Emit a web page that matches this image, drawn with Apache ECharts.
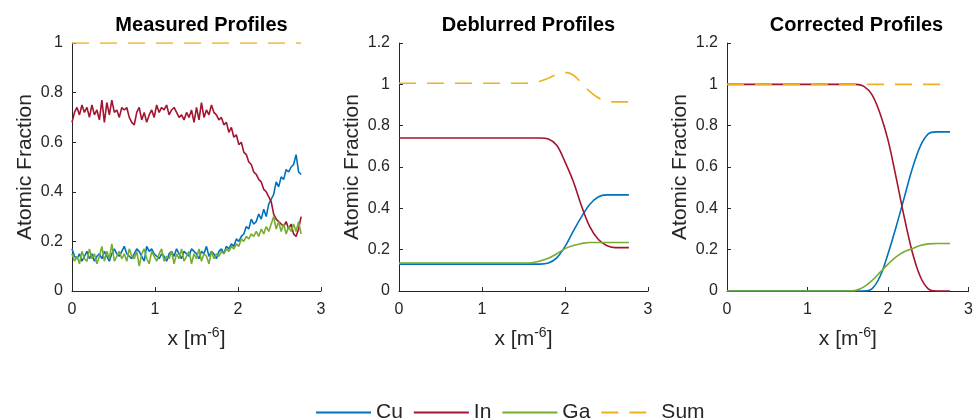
<!DOCTYPE html>
<html>
<head>
<meta charset="utf-8">
<script src="https://cdn.jsdelivr.net/npm/echarts@6/dist/echarts.min.js"></script>
<style>
  html, body { margin: 0; padding: 0; background: #fff; }
  #chart { width: 976px; height: 420px; }
</style>
</head>
<body>
<div id="chart"></div>
<script>
// measured profiles, sampled every 0.03 from 0 to 2.76
let xMeasured = [0, 0.03, 0.06, 0.09, 0.12, 0.15, 0.18, 0.21, 0.24, 0.27, 0.30, 0.33, 0.36, 0.39, 0.42, 0.45, 0.48, 0.51, 0.54, 0.57,
  0.60, 0.63, 0.66, 0.69, 0.72, 0.75, 0.78, 0.81, 0.84, 0.87, 0.90, 0.93, 0.96, 0.99, 1.02, 1.05, 1.08, 1.11, 1.14, 1.17,
  1.20, 1.23, 1.26, 1.29, 1.32, 1.35, 1.38, 1.41, 1.44, 1.47, 1.50, 1.53, 1.56, 1.59, 1.62, 1.65, 1.68, 1.71, 1.74, 1.77,
  1.80, 1.83, 1.86, 1.89, 1.92, 1.95, 1.98, 2.01, 2.04, 2.07, 2.10, 2.13, 2.16, 2.19, 2.22, 2.25, 2.28, 2.31, 2.34, 2.37,
  2.40, 2.43, 2.46, 2.49, 2.52, 2.55, 2.58, 2.61, 2.64, 2.67, 2.70, 2.73, 2.76]
let cuMeasured = [0.17, 0.14, 0.13, 0.15, 0.12, 0.14, 0.16, 0.13, 0.15, 0.12, 0.14, 0.15, 0.13, 0.16, 0.14, 0.12, 0.15, 0.17, 0.15, 0.14,
  0.16, 0.18, 0.15, 0.14, 0.13, 0.15, 0.17, 0.16, 0.14, 0.12, 0.18, 0.16, 0.17, 0.15, 0.14, 0.13, 0.15, 0.14, 0.12, 0.15,
  0.16, 0.14, 0.17, 0.15, 0.13, 0.16, 0.15, 0.14, 0.17, 0.16, 0.15, 0.13, 0.16, 0.15, 0.18, 0.14, 0.16, 0.15, 0.13, 0.16,
  0.17, 0.15, 0.18, 0.17, 0.19, 0.18, 0.21, 0.20, 0.22, 0.23, 0.26, 0.25, 0.29, 0.27, 0.28, 0.31, 0.29, 0.33, 0.30, 0.35,
  0.37, 0.39, 0.44, 0.42, 0.46, 0.45, 0.49, 0.48, 0.50, 0.51, 0.55, 0.48, 0.47]
let inMeasured = [0.68, 0.72, 0.74, 0.71, 0.75, 0.72, 0.74, 0.70, 0.75, 0.71, 0.73, 0.69, 0.77, 0.68, 0.76, 0.71, 0.77, 0.72, 0.73, 0.70,
  0.74, 0.73, 0.74, 0.70, 0.68, 0.67, 0.72, 0.74, 0.69, 0.72, 0.68, 0.71, 0.73, 0.70, 0.75, 0.72, 0.74, 0.73, 0.75, 0.71,
  0.73, 0.74, 0.72, 0.70, 0.71, 0.69, 0.72, 0.70, 0.73, 0.68, 0.74, 0.69, 0.76, 0.70, 0.73, 0.71, 0.75, 0.72, 0.71, 0.69,
  0.70, 0.67, 0.68, 0.64, 0.66, 0.62, 0.63, 0.59, 0.60, 0.56, 0.55, 0.52, 0.51, 0.48, 0.47, 0.45, 0.44, 0.41, 0.40, 0.38,
  0.36, 0.31, 0.29, 0.28, 0.27, 0.26, 0.28, 0.25, 0.27, 0.23, 0.22, 0.25, 0.30]
let gaMeasured = [0.15, 0.12, 0.14, 0.11, 0.16, 0.13, 0.12, 0.17, 0.13, 0.15, 0.11, 0.14, 0.18, 0.12, 0.16, 0.13, 0.19, 0.12, 0.14, 0.16,
  0.13, 0.15, 0.12, 0.17, 0.14, 0.13, 0.16, 0.10, 0.15, 0.17, 0.13, 0.11, 0.16, 0.14, 0.12, 0.15, 0.17, 0.12, 0.14, 0.13,
  0.16, 0.11, 0.15, 0.13, 0.17, 0.12, 0.14, 0.16, 0.11, 0.15, 0.13, 0.17, 0.12, 0.15, 0.14, 0.11, 0.16, 0.13, 0.15, 0.14,
  0.16, 0.15, 0.17, 0.16, 0.18, 0.17, 0.19, 0.18, 0.21, 0.20, 0.22, 0.21, 0.23, 0.22, 0.24, 0.22, 0.25, 0.23, 0.26, 0.24,
  0.27, 0.30, 0.25, 0.28, 0.24, 0.27, 0.23, 0.26, 0.24, 0.27, 0.24, 0.28, 0.23]
let xSumMeasured = [0, 2.76]
let sumMeasured = [1, 1]

// deblurred and corrected profiles, sampled every 0.1
let xSmooth = [0, 0.1, 0.2, 0.3, 0.4, 0.5, 0.6, 0.7, 0.8, 0.9, 1.0, 1.1, 1.2, 1.3, 1.4, 1.5, 1.6, 1.7, 1.8, 1.9,
  2.0, 2.1, 2.2, 2.3, 2.4, 2.5, 2.6, 2.7, 2.77]
let cuDeblurred = [0.13, 0.13, 0.13, 0.13, 0.13, 0.13, 0.13, 0.13, 0.13, 0.13, 0.13, 0.13, 0.13, 0.13, 0.13, 0.13, 0.13, 0.13, 0.135, 0.16,
  0.215, 0.29, 0.36, 0.42, 0.455, 0.465, 0.465, 0.465, 0.465]
let inDeblurred = [0.74, 0.74, 0.74, 0.74, 0.74, 0.74, 0.74, 0.74, 0.74, 0.74, 0.74, 0.74, 0.74, 0.74, 0.74, 0.74, 0.74, 0.74, 0.735, 0.705,
  0.625, 0.53, 0.41, 0.31, 0.25, 0.22, 0.21, 0.21, 0.21]
let gaDeblurred = [0.135, 0.135, 0.135, 0.135, 0.135, 0.135, 0.135, 0.135, 0.135, 0.135, 0.135, 0.135, 0.135, 0.135, 0.135, 0.135, 0.137, 0.145, 0.158, 0.18,
  0.205, 0.22, 0.23, 0.235, 0.235, 0.235, 0.235, 0.235, 0.235]
let sumDeblurred = [1.005, 1.005, 1.005, 1.005, 1.005, 1.005, 1.005, 1.005, 1.005, 1.005, 1.005, 1.005, 1.005, 1.005, 1.005, 1.005, 1.008, 1.015, 1.03, 1.048,
  1.058, 1.045, 1.005, 0.965, 0.935, 0.92, 0.915, 0.915, 0.915]
let cuCorrected = [0, 0, 0, 0, 0, 0, 0, 0, 0, 0, 0, 0, 0, 0, 0, 0, 0, 0, 0.01, 0.07,
  0.18, 0.31, 0.45, 0.59, 0.70, 0.76, 0.77, 0.77, 0.77]
let inCorrected = [1, 1, 1, 1, 1, 1, 1, 1, 1, 1, 1, 1, 1, 1, 1, 1, 1, 0.99, 0.95, 0.86,
  0.73, 0.55, 0.36, 0.19, 0.07, 0.01, 0, 0, 0]
let gaCorrected = [0, 0, 0, 0, 0, 0, 0, 0, 0, 0, 0, 0, 0, 0, 0, 0, 0.003, 0.02, 0.05, 0.09,
  0.13, 0.165, 0.19, 0.205, 0.22, 0.228, 0.23, 0.23, 0.23]
let sumCorrected = [1, 1, 1, 1, 1, 1, 1, 1, 1, 1, 1, 1, 1, 1, 1, 1, 1, 1, 1, 1,
  1, 1, 1, 1, 1, 1, 1, 1, 1]

let titles = ['Measured Profiles', 'Deblurred Profiles', 'Corrected Profiles']
let yMaxes = [1, 1.2, 1.2]
let names = ['Cu', 'In', 'Ga', 'Sum']
let colors = ['#0072BD', '#A2142F', '#77AC30', '#EDB120']

let gridLefts = [72, 399, 727]
let gridWidth = 249
let axisColor = '#262626'
let font = 'Liberation Sans'

function pairs(xs, ys) {
  return xs.map((x, i) => [x, ys[i]])
}

let panelData = [
  [pairs(xMeasured, cuMeasured), pairs(xMeasured, inMeasured), pairs(xMeasured, gaMeasured), pairs(xSumMeasured, sumMeasured)],
  [pairs(xSmooth, cuDeblurred), pairs(xSmooth, inDeblurred), pairs(xSmooth, gaDeblurred), pairs(xSmooth, sumDeblurred)],
  [pairs(xSmooth, cuCorrected), pairs(xSmooth, inCorrected), pairs(xSmooth, gaCorrected), pairs(xSmooth, sumCorrected)]
]

let grids = [], xAxes = [], yAxes = [], series = [], titleList = []
gridLefts.forEach((left, p) => {
  grids.push({ left: left, top: 43, width: gridWidth, height: 248 })
  titleList.push({
    text: titles[p], left: left + gridWidth / 2, top: 10, textAlign: 'center',
    textStyle: { fontFamily: font, fontSize: 20, fontWeight: 'bold', color: '#000' }
  })
  xAxes.push({
    gridIndex: p, type: 'value', min: 0, max: 3, interval: 1,
    name: '{a|x [m}{b|-6}{a|]}', nameLocation: 'middle', nameGap: 35,
    nameTextStyle: {
      rich: {
        a: { fontFamily: font, fontSize: 21, color: axisColor },
        b: { fontFamily: font, fontSize: 14, color: axisColor, padding: [0, 0, 12, 0] }
      }
    },
    axisLine: { show: true, onZero: false, lineStyle: { color: axisColor, width: 1 } },
    axisTick: { show: true, inside: true, length: 4, lineStyle: { color: axisColor } },
    axisLabel: { fontFamily: font, fontSize: 16, color: axisColor, margin: 11 },
    splitLine: { show: false }
  })
  yAxes.push({
    gridIndex: p, type: 'value', min: 0, max: yMaxes[p], interval: 0.2,
    name: 'Atomic Fraction', nameLocation: 'middle', nameGap: 36,
    nameTextStyle: { fontFamily: font, fontSize: 21, color: axisColor },
    axisLine: { show: true, onZero: false, lineStyle: { color: axisColor, width: 1 } },
    axisTick: { show: true, inside: true, length: 4, lineStyle: { color: axisColor } },
    axisLabel: { fontFamily: font, fontSize: 16, color: axisColor, margin: 9 },
    splitLine: { show: false }
  })
  names.forEach((name, s) => {
    series.push({
      name: name, type: 'line', xAxisIndex: p, yAxisIndex: p,
      data: panelData[p][s], symbol: 'none',
      smooth: p > 0 ? 0.35 : false,
      color: colors[s],
      lineStyle: { color: colors[s], width: 1.6, type: s === 3 ? [17, 11] : 'solid' },
      z: s === 3 ? 5 : 2
    })
  })
})

let myChart = echarts.init(document.getElementById('chart'))
myChart.setOption({
  animation: false,
  title: titleList,
  grid: grids,
  xAxis: xAxes,
  yAxis: yAxes,
  legend: {
    data: names, top: 397, left: 310, itemWidth: 55, itemHeight: 14, itemGap: 10,
    itemStyle: { opacity: 0 },
    textStyle: { fontFamily: font, fontSize: 21, color: axisColor }
  },
  series: series
})
</script>
</body>
</html>
